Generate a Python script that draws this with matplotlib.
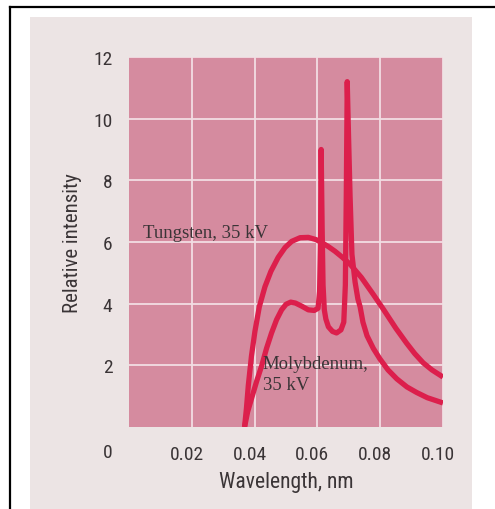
import matplotlib
matplotlib.use("Agg")
import matplotlib.pyplot as plt
from matplotlib import font_manager
from matplotlib.transforms import ScaledTranslation
from matplotlib.patches import Rectangle
from matplotlib.lines import Line2D

# wavelength (nm) and relative intensity
tungsten_x = [0.0368, 0.0374, 0.0380, 0.0390, 0.0401, 0.0415, 0.0433, 0.0452,
              0.0475, 0.0497, 0.0518, 0.0545, 0.0571, 0.0595, 0.0614, 0.0635,
              0.0656, 0.0680, 0.0704, 0.0740, 0.0778, 0.0810, 0.0850, 0.0884,
              0.0910, 0.0937, 0.0965, 0.1000]
tungsten_y = [0.0, 0.6, 1.35, 2.3, 3.1, 3.9, 4.55, 5.05,
              5.5, 5.82, 6.02, 6.14, 6.15, 6.08, 5.98, 5.85,
              5.7, 5.5, 5.28, 4.85, 4.3, 3.82, 3.2, 2.72,
              2.38, 2.08, 1.85, 1.62]

molybdenum_x = [0.0368, 0.0378, 0.0391, 0.0407, 0.0423, 0.0438, 0.0454, 0.0470,
                0.0486, 0.0500, 0.0515, 0.0530, 0.0550, 0.0571, 0.0590, 0.0602,
                0.0607, 0.0610, 0.0612, 0.0615, 0.0618, 0.0622, 0.0627, 0.0635,
                0.0648, 0.0661, 0.0675, 0.0684, 0.0689, 0.0692, 0.0695, 0.0699,
                0.0704, 0.0710, 0.0720, 0.0729, 0.0736, 0.0745, 0.0758, 0.0778,
                0.0799, 0.0825, 0.0853, 0.0885, 0.0916, 0.0950, 0.1000]
molybdenum_y = [0.0, 0.5, 0.95, 1.5, 2.0, 2.55, 3.05, 3.48,
                3.8, 3.98, 4.05, 4.02, 3.92, 3.8, 3.78, 3.85,
                4.4, 6.0, 9.0, 6.5, 4.6, 3.8, 3.5, 3.25,
                3.1, 3.05, 3.15, 3.4, 4.6, 7.5, 11.2, 9.5,
                7.5, 5.6, 4.7, 4.15, 3.9, 3.4, 2.96, 2.55,
                2.21, 1.85, 1.56, 1.3, 1.12, 0.95, 0.78]

x_ticks = [0.02, 0.04, 0.06, 0.08, 0.10]
x_tick_labels = ["0.02", "0.04", "0.06", "0.08", "0.10"]
y_ticks = [2, 4, 6, 8, 10, 12]
y_tick_labels = ["2", "4", "6", "8", "10", "12"]

installed = {f.name for f in font_manager.fontManager.ttflist}
sans = "Roboto"
for name in ["Liberation Sans Narrow", "Roboto Condensed", "Open Sans Condensed"]:
    if name in installed:
        sans = name
        break
serif = "Liberation Serif"

label_color = "#3a3436"
curve_color = "#dc1f4c"
panel_color = "#d58b9f"
grid_color = "#f2dde3"

fig = plt.figure(figsize=(4.95, 5.10), dpi=100)
fig.patch.set_facecolor("white")

# page background and the cropped frame lines
fig.patches.append(Rectangle((30/495, 0), 442/495, 492/510, transform=fig.transFigure,
                             facecolor="#ece4e4", edgecolor="none", zorder=-5))
fig.lines.append(Line2D([10/495, 1], [502/510, 502/510], transform=fig.transFigure,
                        color="black", lw=1.6))
fig.lines.append(Line2D([10/495, 10/495], [0, 502/510], transform=fig.transFigure,
                        color="black", lw=1.6))

ax = fig.add_axes((129/495, 82/510, 314/495, 370/510))
ax.set_zorder(2)
ax.set_facecolor(panel_color)
for side in ax.spines.values():
    side.set_visible(False)

ax.set_xlim(0, 0.10)
ax.set_ylim(0, 12)
ax.set_xticks(x_ticks, x_tick_labels)
ax.set_yticks(y_ticks, y_tick_labels)
ax.tick_params(length=0, labelsize=14, labelcolor=label_color)
ax.tick_params(axis="x", pad=13)
ax.tick_params(axis="y", pad=12)
for lab in ax.get_xticklabels() + ax.get_yticklabels():
    lab.set_fontfamily(sans)
shift = ScaledTranslation(-5/100, 0, fig.dpi_scale_trans)
for lab in ax.get_xticklabels():
    lab.set_transform(lab.get_transform() + shift)

ax.grid(True, color=grid_color, lw=1.3)
ax.set_axisbelow(True)

ax.plot(tungsten_x, tungsten_y, color=curve_color, lw=3.8, solid_capstyle="butt")
ax.plot(molybdenum_x, molybdenum_y, color=curve_color, lw=3.8, solid_capstyle="butt")

ax.text(0.00446, 6.16, "Tungsten, 35 kV", family=serif, fontsize=13.5,
        color=label_color, ha="left", va="baseline")
ax.text(0.0426, 1.23, "Molybdenum,\n35 kV", family=serif, fontsize=13.5,
        color=label_color, ha="left", va="baseline", linespacing=1.34)

fig.text(108/495, 1 - 453/510, "0", family=sans, fontsize=14, color=label_color,
         ha="center", va="center", zorder=3)
fig.text(286/495, 1 - 483/510, "Wavelength, nm", family=sans, fontsize=15.5,
         color=label_color, ha="center", va="center", zorder=3)
fig.text(73/495, 1 - 243/510, "Relative intensity", family=sans, fontsize=15,
         color=label_color, ha="center", va="center", rotation=90, zorder=3)

fig.savefig("out.png", dpi=100)
